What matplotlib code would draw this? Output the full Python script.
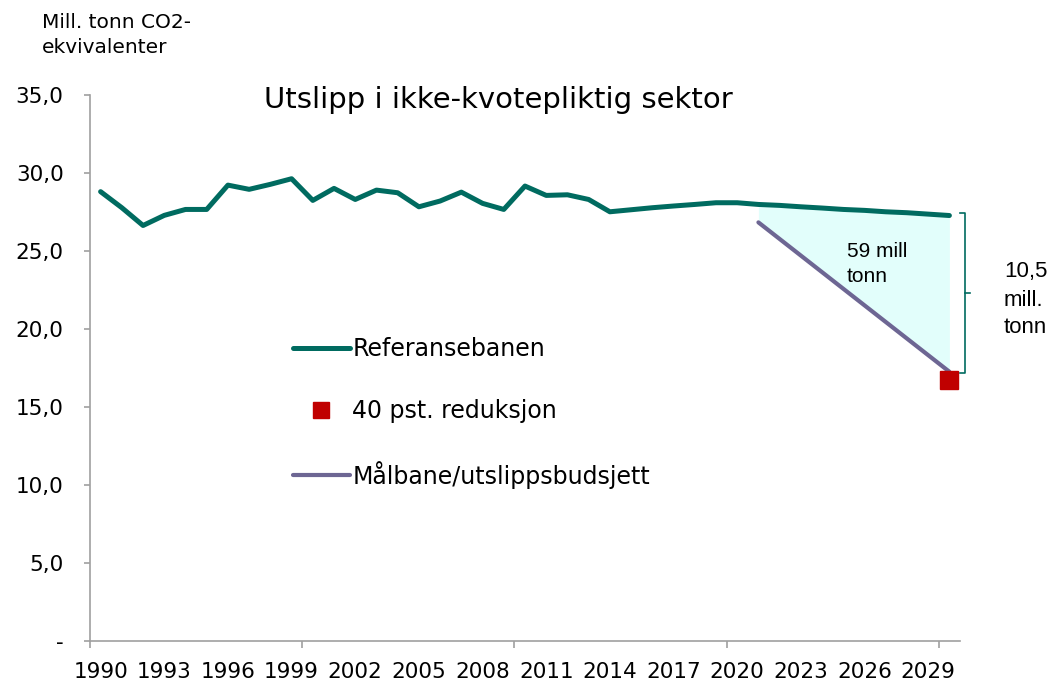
import matplotlib
matplotlib.use('Agg')
import matplotlib.pyplot as plt
from matplotlib.lines import Line2D
import numpy as np

# data
years = list(range(1990, 2031))
referanse = [28.8, 27.77, 26.63, 27.28, 27.66, 27.66, 29.22, 28.95, 29.27, 29.63,
             28.24, 29.01, 28.3, 28.9, 28.73, 27.83, 28.2, 28.77, 28.05, 27.66,
             29.16, 28.56, 28.6, 28.3, 27.51, 27.64, 27.77, 27.88, 27.98, 28.09,
             28.09, 27.98, 27.92, 27.83, 27.75, 27.66, 27.6, 27.51, 27.45, 27.36,
             27.27]
maal_years = [2021, 2030]
maal = [26.83, 17.25]
red_year = [2030]
red_val = [16.75]

xtick_years = list(range(1990, 2030, 3))
yticks = [0, 5, 10, 15, 20, 25, 30, 35]
ytick_labels = ['-', '5,0', '10,0', '15,0', '20,0', '25,0', '30,0', '35,0']

teal = '#006B60'
purple = '#6D6693'
red = '#C00000'
fillc = '#E2FEFB'
grey = '#A0A0A0'

W, H = 1054, 684
fig = plt.figure(figsize=(W / 100, H / 100), dpi=100)
ax = fig.add_axes([90 / W, 1 - 640.7 / H, 870 / W, 545.7 / H])


def ftext(x, y, s, **kw):
    # text placed in figure pixels, y counted from the top
    fig.text(x / W, 1 - y / H, s, **kw)


# fill between reference and target path
ref_ends = [referanse[years.index(maal_years[0])], referanse[years.index(maal_years[1])]]
ax.fill_between(maal_years, ref_ends, maal, color=fillc, lw=0, zorder=1)

ax.plot(years, referanse, color=teal, lw=3.6, solid_capstyle='round', zorder=3)
ax.plot(maal_years, maal, color=purple, lw=3.0, solid_capstyle='round', zorder=2)
ax.plot(red_year, red_val, ls='none', marker='s', ms=13, color=red, zorder=4, clip_on=False)

ax.set_xlim(1989.5, 2030.5)
ax.set_ylim(0, 35)

for s in ['top', 'right']:
    ax.spines[s].set_visible(False)
for s in ['left', 'bottom']:
    ax.spines[s].set_color(grey)
    ax.spines[s].set_linewidth(1.2)

ax.set_xticks(xtick_years)
ax.set_xticklabels([str(y) for y in xtick_years], fontsize=15.5)
ax.tick_params(axis='x', which='major', length=0, pad=15.5)
ax.set_xticks([1989.5, 1999.5, 2009.5, 2019.5, 2029.5], minor=True)
ax.tick_params(axis='x', which='minor', length=5, width=1.2, color=grey, direction='out')

ax.set_yticks(yticks)
ax.set_yticklabels(ytick_labels, fontsize=15.5)
ax.tick_params(axis='y', length=4, width=1.2, color=grey, direction='out', pad=15)

# bracket for 10,5 mill. tonn
xb = 2030.72
ax.plot([2030.48, xb, xb, 2030.48], [27.4, 27.4, 17.2, 17.2], color=teal, lw=1.2, clip_on=False)
ax.plot([xb, 2030.95], [22.3, 22.3], color=teal, lw=1.2, clip_on=False)

arial = 'Liberation Sans'
ftext(847, 256.7, '59 mill', fontsize=15, family=arial, va='baseline')
ftext(847, 281.7, 'tonn', fontsize=15, family=arial, va='baseline')
ftext(1004, 277.3, '10,5', fontsize=16, family=arial, va='baseline')
ftext(1004, 305.5, 'mill.', fontsize=16, family=arial, va='baseline')
ftext(1004, 333, 'tonn', fontsize=16, family=arial, va='baseline')

ftext(498, 108.3, 'Utslipp i ikke-kvotepliktig sektor', fontsize=21,
      ha='center', va='baseline')
ftext(42, 28, 'Mill. tonn CO2-', fontsize=14.5, va='baseline')
ftext(42, 53, 'ekvivalenter', fontsize=14.5, va='baseline')

handles = [Line2D([], [], color=teal, lw=3.6, solid_capstyle='round'),
           Line2D([], [], ls='none', marker='s', ms=11.5, color=red),
           Line2D([], [], color=purple, lw=3.0, solid_capstyle='round')]
labels = ['Referansebanen', '40 pst. reduksjon', 'Målbane/utslippsbudsjett']
ax.legend(handles, labels, loc='center left', bbox_to_anchor=(293 / W, 1 - 413 / H),
          bbox_transform=fig.transFigure, frameon=False, fontsize=17, borderpad=0,
          borderaxespad=0, handlelength=2.4, handletextpad=0.12, labelspacing=1.6,
          numpoints=1)

plt.savefig('out.png', dpi=100)
